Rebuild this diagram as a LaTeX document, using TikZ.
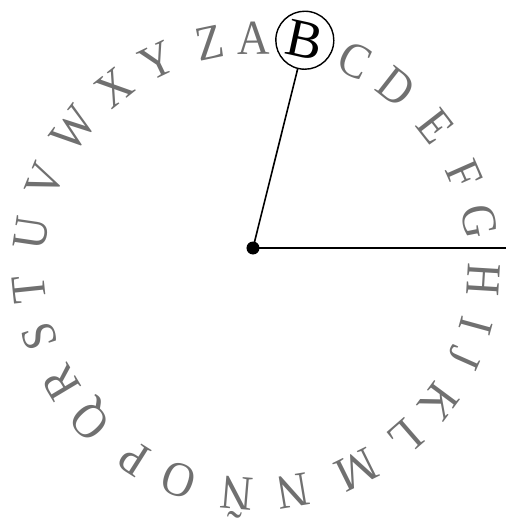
\documentclass[tikz,border=0pt]{standalone}
\usepackage{fontspec}
\setmainfont{Liberation Serif}
\definecolor{lettergray}{RGB}{112,112,112}
\tikzset{
  letter/.style={inner sep=0pt, text height=32.5pt, text depth=0pt,
    font=\fontsize{49}{49}\selectfont, text=lettergray},
  hub/.style={circle, fill=black, minimum size=13pt, inner sep=0pt},
  marked/.style={letter, text=black, font=\fontsize{54}{54}\selectfont, text height=35.7pt,
    circle, draw=black, line width=1.4pt, minimum size=58pt},
  spoke/.style={line width=1.6pt}
}
\begin{document}
\begin{tikzpicture}[x=1pt,y=1pt]
\useasboundingbox (-256,-254) rectangle (250,266);
\coordinate (C) at (0,0);
\node[hub] (hub) at (-3,18) {};
\coordinate (edge) at (250,18);
\foreach \l/\a/\n in {A/90.5/A, C/64.1/C, D/52.0/D, E/37.9/E, F/23.8/F, G/11.2/G,
  H/-3.5/H, I/-15.3/I, J/-23.9/J, K/-36.6/K, L/-49.0/L, M/-63.7/M, N/-80.5/N,
  Ñ/-94.8/Ntilde, O/-109.8/O, P/-122.3/P, Q/-136.8/Q, R/-149.1/R, S/-162.0/S,
  T/-174.0/T, U/171.6/U, V/158.0/V, W/143.1/W, X/128.5/X, Y/115.6/Y, Z/101.8/Z}
  \node[letter, rotate=\a-90] (\n) at (\a:228) {\scalebox{0.92}[1]{\l}};
\node[marked, rotate=-12.2] (B) at (77.8:231) {B};
\draw[spoke] (hub.center) -- (B);
\draw[spoke] (hub.center) -- (edge);
\end{tikzpicture}
\end{document}
